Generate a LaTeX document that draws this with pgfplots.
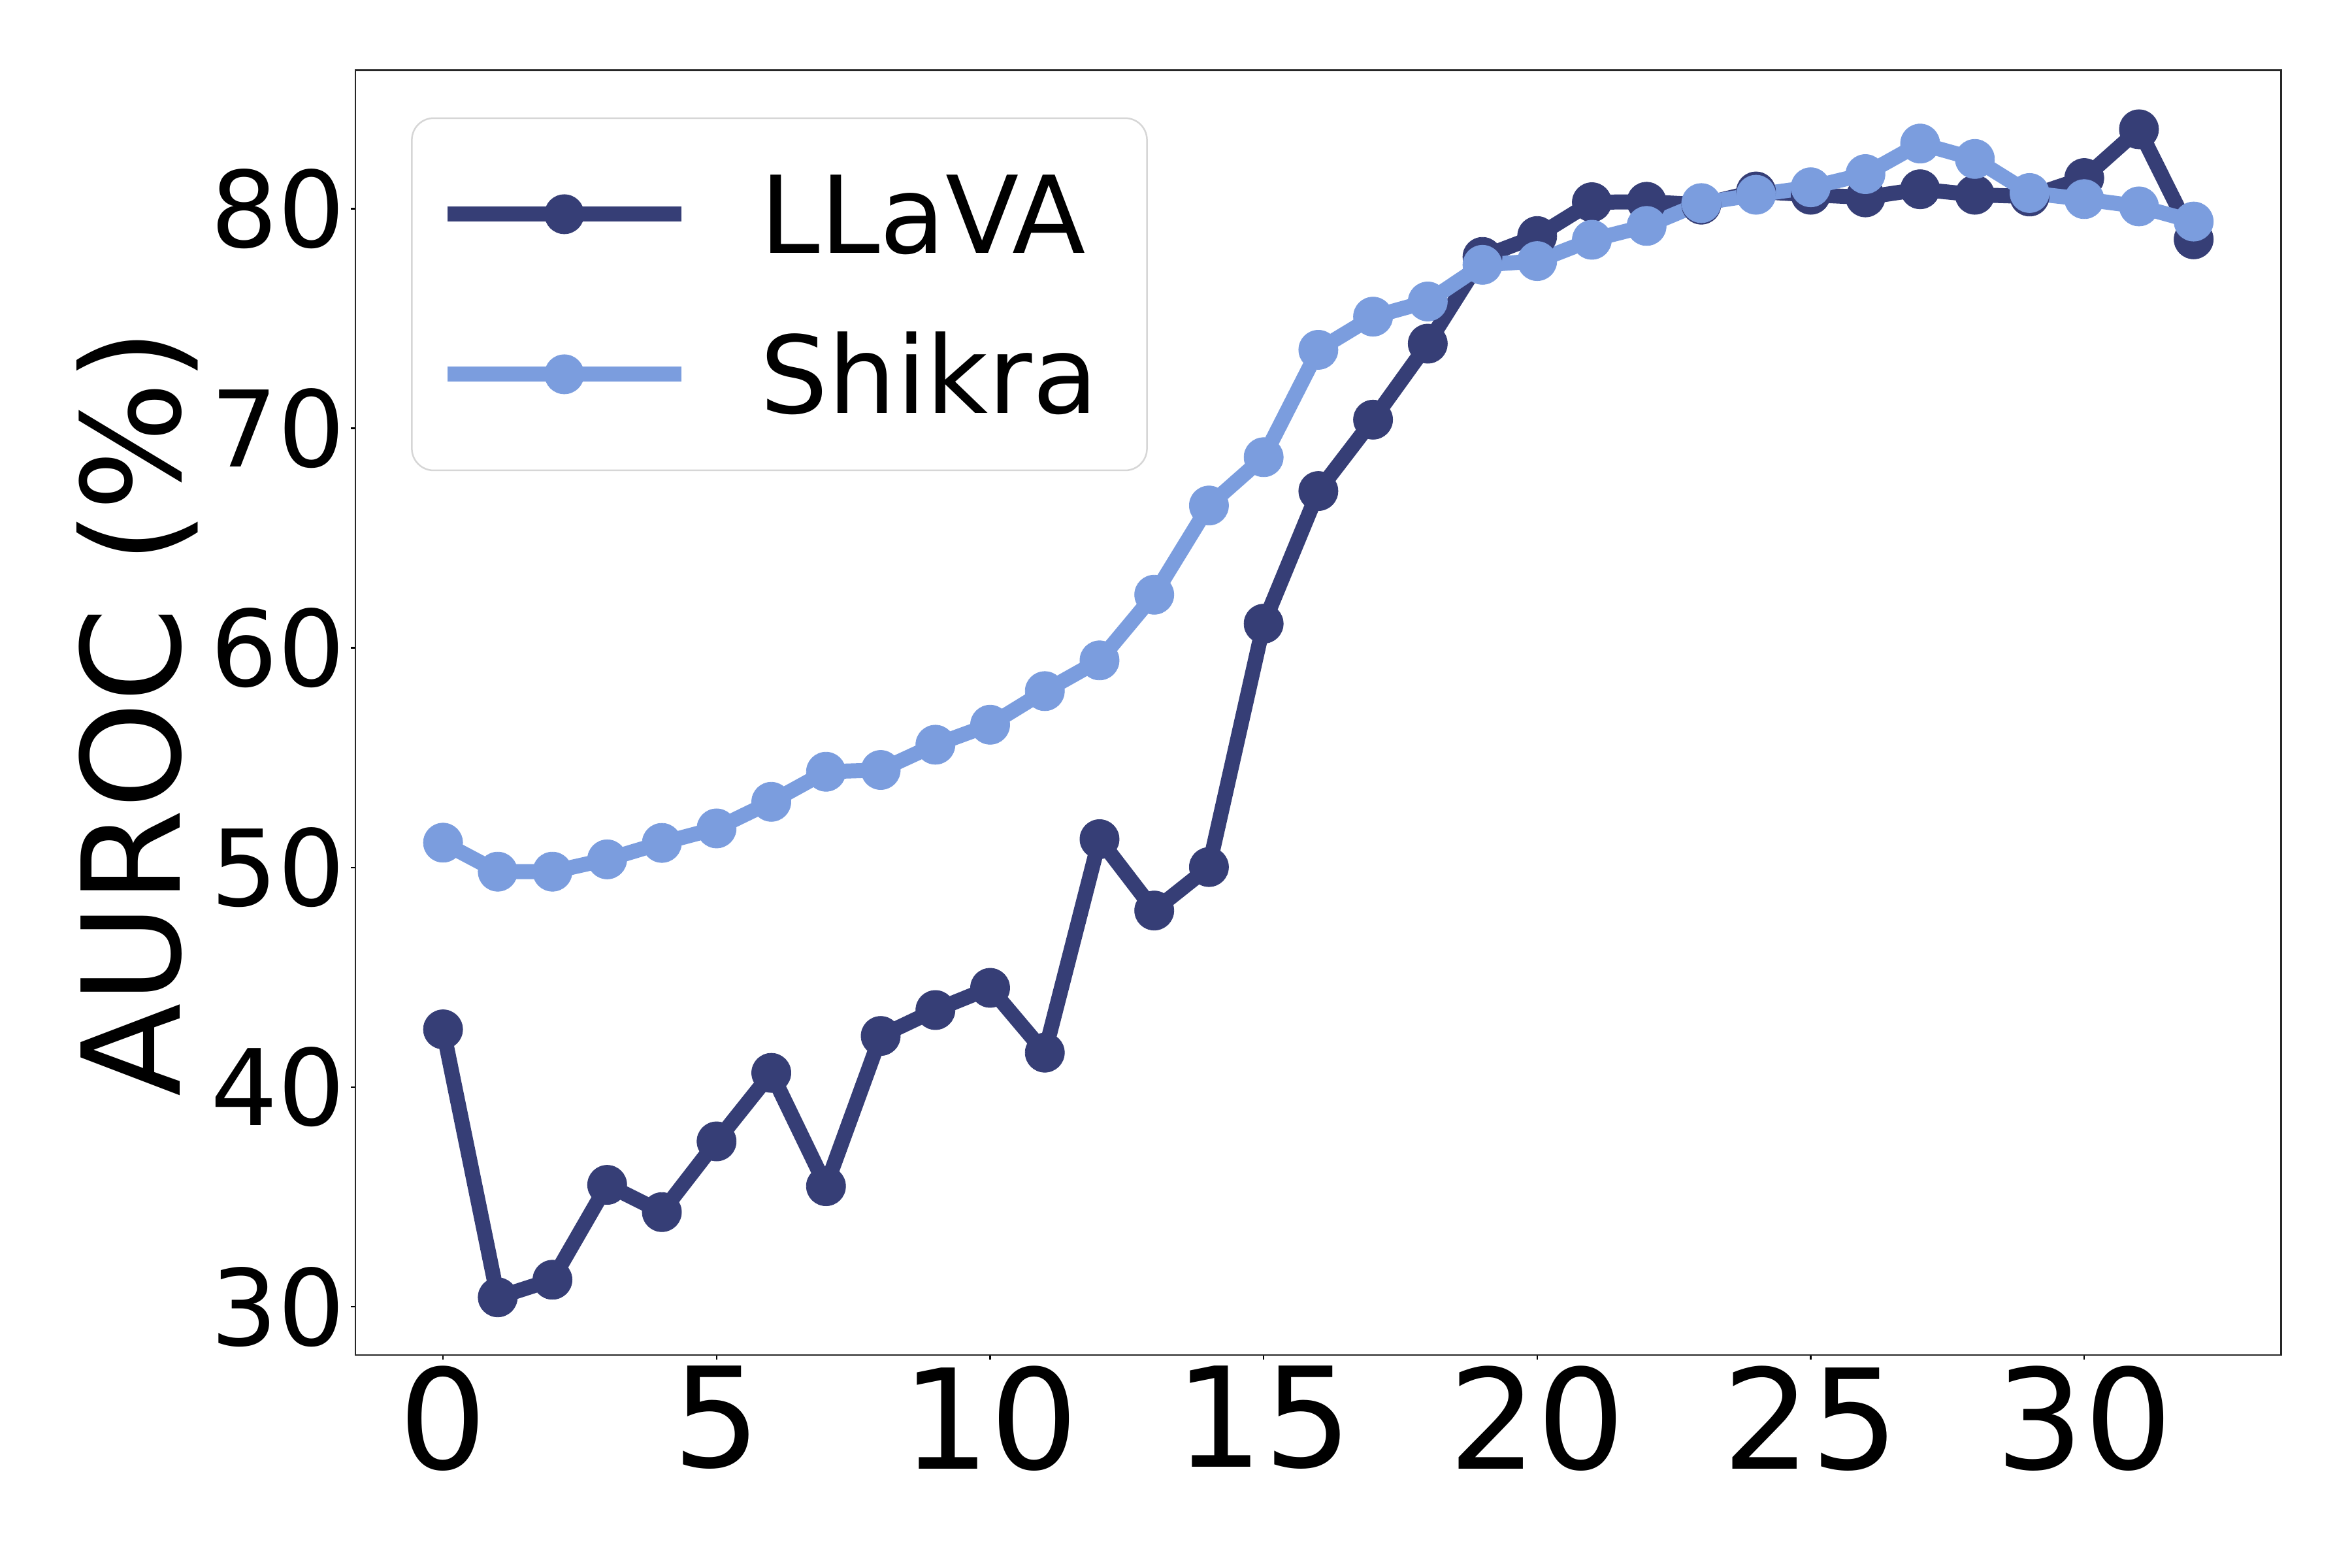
\documentclass[border=0pt]{standalone}
\usepackage{fontspec}
\setmainfont{DejaVu Sans}
\usepackage{pgfplots}
\usepackage{pgfplotstable}
\pgfplotsset{compat=1.18}

\definecolor{llava}{HTML}{363E76}
\definecolor{shikra}{HTML}{7B9DDE}

% AUROC (%) per layer
\pgfplotstableread{
layer auroc
0  42.63
1  30.43
2  31.23
3  35.55
4  34.31
5  37.53
6  40.65
7  35.49
8  42.33
9  43.51
10 44.52
11 41.57
12 51.29
13 48.04
14 50.02
15 61.10
16 67.14
17 70.39
18 73.85
19 77.80
20 78.75
21 80.29
22 80.31
23 80.18
24 80.78
25 80.63
26 80.51
27 80.88
28 80.63
29 80.55
30 81.39
31 83.61
32 78.60
}\llavatable

\pgfplotstableread{
layer auroc
0  51.13
1  49.81
2  49.81
3  50.37
4  51.12
5  51.78
6  52.99
7  54.36
8  54.44
9  55.59
10 56.50
11 58.03
12 59.43
13 62.42
14 66.48
15 68.68
16 73.57
17 75.08
18 75.77
19 77.44
20 77.61
21 78.58
22 79.21
23 80.25
24 80.63
25 80.97
26 81.57
27 82.96
28 82.26
29 80.71
30 80.43
31 80.10
32 79.41
}\shikratable

\begin{document}
\begin{tikzpicture}
\path[use as bounding box] (-65.3pt,-39.1pt) rectangle (366.7pt,248.9pt);
\begin{axis}[
  scale only axis,
  width=353.7pt, height=236pt,
  xmin=-1.6, xmax=33.6,
  ymin=27.8, ymax=86.3,
  xtick={0,5,...,30},
  ytick={30,40,...,80},
  tick pos=left,
  tick align=outside,
  major tick length=0.84pt,
  tick style={black, line width=0.3pt},
  axis line style={black!85, line width=0.3pt},
  /pgf/number format/assume math mode=true,
  xticklabel style={font=\fontsize{25.5}{25.5}\selectfont, inner sep=0pt, yshift=-0.9pt},
  yticklabel style={font=\fontsize{19.4}{19.4}\selectfont, inner sep=0pt, xshift=-0.9pt},
  ylabel={AUROC (\%)},
  ylabel style={font=\fontsize{25}{25}\selectfont, at={(axis description cs:-0.091,0.5)}, anchor=base, inner sep=0pt},
  legend cell align=left,
  legend style={
    at={(axis description cs:0,1)}, anchor=north west,
    xshift=10.2pt, yshift=-8.65pt,
    draw=black!16, line width=0.3pt, rounded corners=4pt,
    font=\fontsize{19.7}{19.7}\selectfont,
    inner xsep=5.12pt, inner ysep=10.55pt,
    row sep=15.2pt, column sep=13.12pt,
    nodes={inner sep=0pt, text width=65.9pt, text height=14.2pt, text depth=0pt},
  },
  legend image code/.code={
    \draw[mark repeat=2, mark phase=2, #1] plot coordinates {(0pt,0pt) (21.5pt,0pt) (43pt,0pt)};
  },
  every axis plot/.append style={line width=2.76pt, line join=round, mark=*, mark size=3.6pt, mark options={solid, line width=0.1pt}},
]
\addplot[color=llava] table[x=layer, y=auroc] {\llavatable};
\addlegendentry{LLaVA}
\addplot[color=shikra] table[x=layer, y=auroc] {\shikratable};
\addlegendentry{Shikra}
\end{axis}
\end{tikzpicture}
\end{document}
